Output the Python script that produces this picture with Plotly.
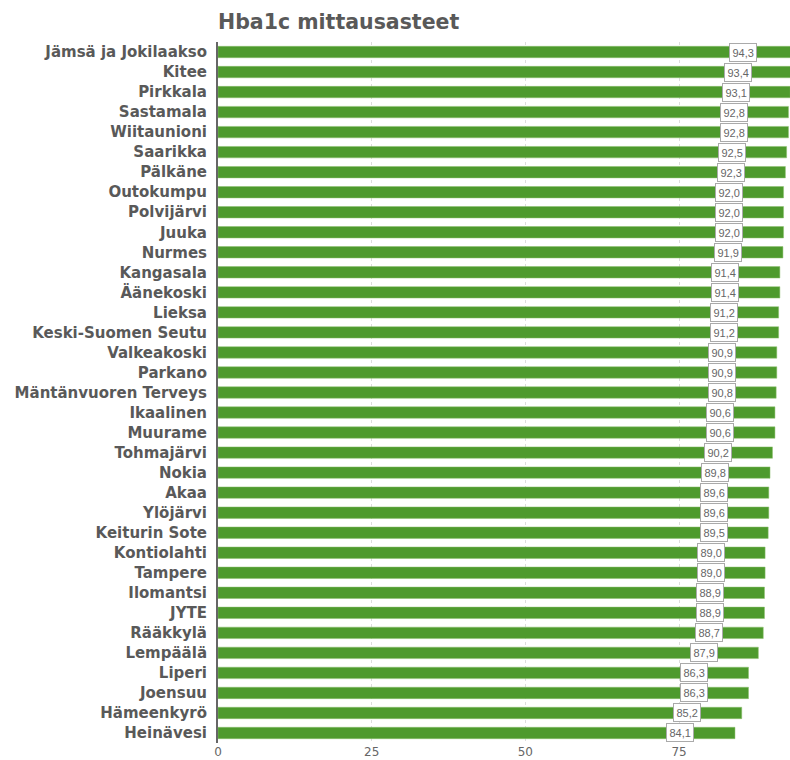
import plotly.graph_objects as go

categories = ["Jämsä ja Jokilaakso", "Kitee", "Pirkkala", "Sastamala", "Wiitaunioni",
              "Saarikka", "Pälkäne", "Outokumpu", "Polvijärvi", "Juuka", "Nurmes",
              "Kangasala", "Äänekoski", "Lieksa", "Keski-Suomen Seutu", "Valkeakoski",
              "Parkano", "Mäntänvuoren Terveys", "Ikaalinen", "Muurame", "Tohmajärvi",
              "Nokia", "Akaa", "Ylöjärvi", "Keiturin Sote", "Kontiolahti", "Tampere",
              "Ilomantsi", "JYTE", "Rääkkylä", "Lempäälä", "Liperi", "Joensuu",
              "Hämeenkyrö", "Heinävesi"]
values = [94.3, 93.4, 93.1, 92.8, 92.8, 92.5, 92.3, 92.0, 92.0, 92.0, 91.9,
          91.4, 91.4, 91.2, 91.2, 90.9, 90.9, 90.8, 90.6, 90.6, 90.2,
          89.8, 89.6, 89.6, 89.5, 89.0, 89.0, 88.9, 88.9, 88.7, 87.9,
          86.3, 86.3, 85.2, 84.1]
x_ticks = [0, 25, 50, 75]

X_MAX = 93.05
LABEL_BACKOFF = 6.6  # label box right edge sits this many units left of bar end

fig = go.Figure()
fig.add_trace(go.Bar(
    x=values, y=categories, orientation="h",
    marker=dict(color="#4e9a2d", line=dict(color="#8cc06e", width=0.5)),
    hoverinfo="x+y",
))

for c, v in zip(categories, values):
    fig.add_annotation(
        x=v - LABEL_BACKOFF, y=c, xref="x", yref="y",
        text=f"{v:.1f}".replace(".", ","),
        showarrow=False, xanchor="right",
        font=dict(family="Liberation Sans, Arial, sans-serif", size=11, color="#666666"),
        bgcolor="white", bordercolor="#aaaaaa", borderwidth=1, borderpad=2.5,
    )

fig.update_layout(
    width=790, height=760,
    margin=dict(l=218, r=0, t=42, b=17, autoexpand=False),
    paper_bgcolor="white", plot_bgcolor="white",
    title=dict(text="<b>Hba1c mittausasteet</b>", x=218/790, xanchor="left",
               y=1 - 22/760, yanchor="middle",
               font=dict(family="DejaVu Sans", size=20.5, color="#595959")),
    bargap=0.43,
    showlegend=False,
    xaxis=dict(range=[0, X_MAX], tickvals=x_ticks, ticktext=[str(t) for t in x_ticks],
               showgrid=True, gridcolor="#dddddd", griddash="dot", gridwidth=1,
               zeroline=False, showline=False, ticks="", ticklabelstandoff=0,
               automargin=False,
               tickfont=dict(family="DejaVu Sans", size=12, color="#666666")),
    yaxis=dict(autorange="reversed", showline=True, linecolor="#666666", linewidth=2,
               ticks="", ticklabelstandoff=6, showgrid=False, automargin=False,
               tickfont=dict(family="DejaVu Sans", size=15, color="#595959", weight="bold")),
)

fig.write_html("out.html")
